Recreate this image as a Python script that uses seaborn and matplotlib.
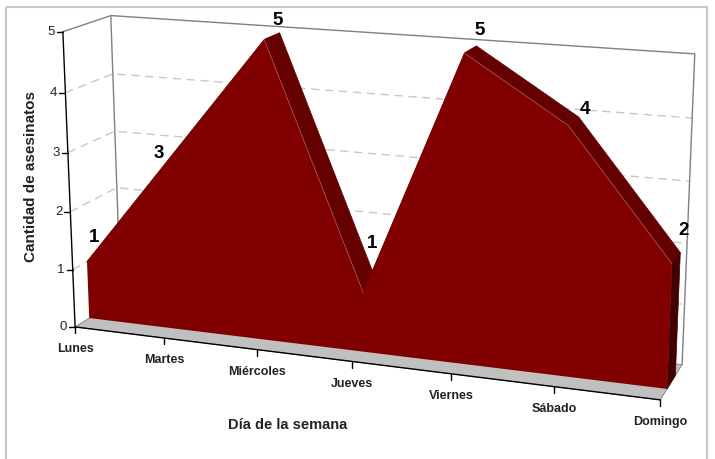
import numpy as np
import matplotlib
matplotlib.use('Agg')
import matplotlib.pyplot as plt
import seaborn as sns
from matplotlib.patches import Polygon, Rectangle

# --- Data ---
days = ['Lunes', 'Martes', 'Miércoles', 'Jueves', 'Viernes', 'Sábado', 'Domingo']
asesinatos = [1, 3, 5, 1, 5, 4, 2]
y_ticks = [0, 1, 2, 3, 4, 5]
y_max = 5

# --- Style ---
sns.set_theme(style='white')
plt.rcParams['font.family'] = ['Liberation Sans', 'DejaVu Sans']
FACE = '#800000'
TOP = '#640000'
SIDE = '#420000'
FLOOR = '#c0c0c0'
WALL = '#808080'
GRID = '#c8c8c8'

# --- Perspective camera fitted to the chart box (u: category, v: value, w: depth) ---
calib_3d = [(0, 1, 0), (0, .8, 0), (0, .6, 0), (0, .4, 0), (0, .2, 0), (0, 0, 0),
            (1/6, 0, 0), (2/6, 0, 0), (3/6, 0, 0), (4/6, 0, 0), (5/6, 0, 0), (1, 0, 0),
            (0, 1, 1), (0, .8, 1), (0, .6, 1), (0, .4, 1),
            (1, 1, 1), (1, .8, 1), (1, .6, 1), (1, 0, 1)]
calib_px = [(63, 32), (65, 93), (68, 152), (71, 211), (73, 268), (75, 326),
            (164, 338), (257, 352), (352, 363), (452, 375), (554, 387), (660, 398),
            (110, 16), (113, 74), (115, 131), (117, 188),
            (695, 54), (692, 118), (690, 181), (682, 364)]
CX, CY, S = 360.0, 200.0, 300.0


def fit_camera(pts3, pts2):
    rows = []
    for (X, Y, Z), (x, y) in zip(pts3, pts2):
        xn, yn = (x - CX) / S, (y - CY) / S
        h = [X, Y, Z, 1.0]
        rows.append(h + [0] * 4 + [-xn * c for c in h])
        rows.append([0] * 4 + h + [-yn * c for c in h])
    _, _, vt = np.linalg.svd(np.array(rows, dtype=float))
    return vt[-1].reshape(3, 4)


P = fit_camera(calib_3d, calib_px)


def proj(u, v, w):
    h = P @ np.array([u, v, w, 1.0])
    return h[0] / h[2] * S + CX, h[1] / h[2] * S + CY


n = len(days)
us = [i / (n - 1) for i in range(n)]
vs = [a / y_max for a in asesinatos]
wf, wb = 0.30, 0.68

fig = plt.figure(figsize=(7.15, 4.59), dpi=100)
ax = fig.add_axes([0, 0, 1, 1])
ax.set_xlim(0, 715)
ax.set_ylim(459, 0)
ax.axis('off')

# --- Walls and gridlines ---
for t in y_ticks[1:]:
    v = t / y_max
    if t < y_max:
        ax.plot(*zip(proj(0, v, 0), proj(0, v, 1), proj(1, v, 1)), color=GRID, lw=1,
                ls=(0, (6, 4)), zorder=1)
frame = [proj(0, 1, 0), proj(0, 1, 1), proj(1, 1, 1), proj(1, 0, 1)]
ax.plot(*zip(*frame), color=WALL, lw=1, zorder=1)
ax.plot(*zip(proj(0, 0, 1), proj(0, 1, 1)), color=WALL, lw=1, zorder=1)

# --- Floor ---
floor = [proj(0, 0, 0), proj(1, 0, 0), proj(1, 0, 1), proj(0, 0, 1)]
ax.add_patch(Polygon(floor, closed=True, facecolor=FLOOR, edgecolor=WALL, lw=0.6, zorder=2))

# --- 3D area: top strips, end face, front face ---
for i in range(n - 1):
    quad = [proj(us[i], vs[i], wf), proj(us[i + 1], vs[i + 1], wf),
            proj(us[i + 1], vs[i + 1], wb), proj(us[i], vs[i], wb)]
    ax.add_patch(Polygon(quad, closed=True, facecolor=TOP, edgecolor=TOP, lw=0.5, zorder=3))
end_face = [proj(1, 0, wf), proj(1, vs[-1], wf), proj(1, vs[-1], wb), proj(1, 0, wb)]
ax.add_patch(Polygon(end_face, closed=True, facecolor=SIDE, edgecolor=SIDE, lw=0.5, zorder=3))

front = [proj(u, v, wf) for u, v in zip(us, vs)] + [proj(1, 0, wf), proj(0, 0, wf)]
ax.add_patch(Polygon(front, closed=True, facecolor=FACE, edgecolor='none', zorder=4))
for i in range(n - 1):
    if vs[i + 1] < vs[i]:
        ax.plot(*zip(proj(us[i], vs[i], wf), proj(us[i + 1], vs[i + 1], wf)),
                color='#b85a5a', lw=0.5, zorder=4.5)

# --- Axes lines and ticks ---
ax.plot(*zip(proj(0, 0, 0), proj(0, 1, 0)), color='black', lw=1, zorder=5)
ax.plot(*zip(proj(0, 0, 0), proj(1, 0, 0)), color='black', lw=1, zorder=5)
for t in y_ticks:
    x, y = proj(0, t / y_max, 0)
    ax.plot([x - 6, x], [y, y], color='black', lw=1, zorder=5)
    ax.text(x - 8, y, str(t), ha='right', va='center', fontsize=9.5, color='#222222')
for u, d in zip(us, days):
    x, y = proj(u, 0, 0)
    ax.plot([x, x], [y, y + 6], color='black', lw=1, zorder=5)
    ax.text(x, y + 22, d, ha='center', va='center', fontsize=9, fontweight='bold',
            color='#222222')

# --- Value labels ---
label_nudge = [(-10, -14), (-30, 8), (-2, -12), (-5, -38), (3, -15), (6, -8), (3, -22)]
for u, v, a, (dx, dy) in zip(us, vs, asesinatos, label_nudge):
    x, y = proj(u, v, wb)
    ax.text(x + dx, y + dy, str(a), ha='center', va='center', fontsize=13.5,
            fontweight='bold', color='black', zorder=6)

# --- Titles ---
ax.text(288, 425, 'Día de la semana', ha='center', va='center', fontsize=10.5,
        fontweight='bold', color='#222222')
ax.text(31, 176, 'Cantidad de asesinatos', ha='center', va='center', rotation=90,
        fontsize=11, fontweight='bold', color='#222222')

# --- Outer border ---
ax.add_patch(Rectangle((5.5, 6.5), 701, 470, fill=False, edgecolor='#c8c8c8', lw=1.5,
                       zorder=0))

fig.savefig('out.png', dpi=100)
